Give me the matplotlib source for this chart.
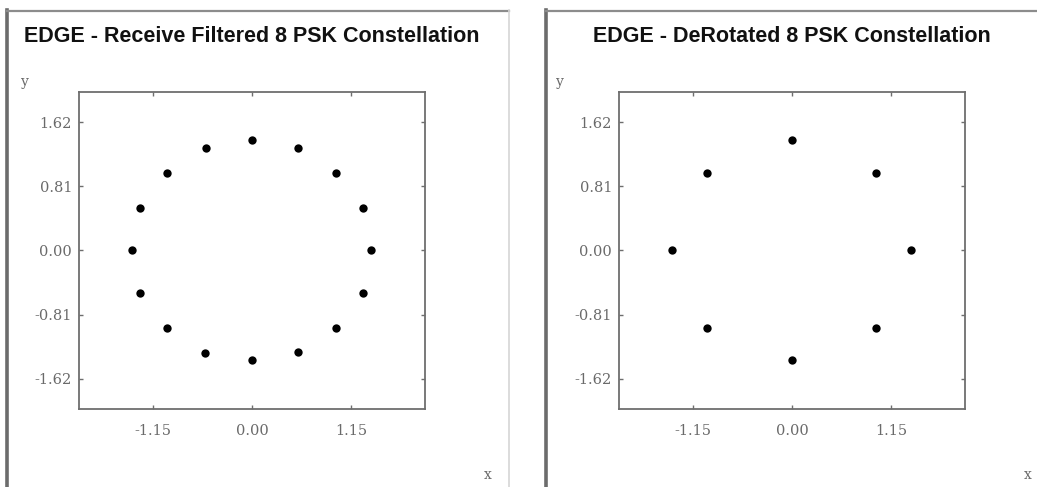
import matplotlib
matplotlib.use("Agg")
import matplotlib.pyplot as plt
from matplotlib.lines import Line2D

# Receive-filtered constellation: 16 phase states (8-PSK with 3pi/8 rotation)
rx_i = [0.00, 0.53, 0.97, 1.28, 1.38, 1.28, 0.97, 0.53,
        0.00, -0.54, -0.98, -1.29, -1.39, -1.29, -0.98, -0.53]
rx_q = [1.40, 1.29, 0.98, 0.54, 0.00, -0.53, -0.98, -1.28,
        -1.38, -1.29, -0.975, -0.53, 0.00, 0.53, 0.98, 1.29]

# De-rotated constellation: 8 phase states
dr_i = [0.00, 0.97, 1.38, 0.97, 0.00, -0.98, -1.39, -0.98]
dr_q = [1.40, 0.98, 0.00, -0.975, -1.38, -0.98, 0.00, 0.98]

x_ticks = [-1.15, 0.00, 1.15]
y_ticks = [-1.62, -0.81, 0.00, 0.81, 1.62]
titles = ["EDGE - Receive Filtered 8 PSK Constellation",
          "EDGE - DeRotated 8 PSK Constellation"]

plt.rcParams["axes.unicode_minus"] = False

W, H = 1037, 487
fig = plt.figure(figsize=(W / 100, H / 100), dpi=100)
fig.patch.set_facecolor("white")

spine_col = "#6e6e6e"
text_col = "#6a6a6a"
serif = ["DejaVu Serif"]


def fx(px):
    return px / W


def fy(py):
    return 1 - py / H


# panel frames
def frame(x0, x1, right_edge=True):
    fig.add_artist(Line2D([fx(x0), fx(x0)], [fy(10), 0], transform=fig.transFigure,
                          color="#6c6c6c", lw=2.6))
    fig.add_artist(Line2D([fx(x0), fx(x1)], [fy(10.5), fy(10.5)], transform=fig.transFigure,
                          color="#8c8c8c", lw=1.6))
    if right_edge:
        fig.add_artist(Line2D([fx(x1), fx(x1)], [fy(10), 0], transform=fig.transFigure,
                              color="#d6d6d6", lw=1.2))


frame(7, 509)
frame(546, 1040, right_edge=False)

panels = [(79, rx_i, rx_q, titles[0], 25, 488),
          (619, dr_i, dr_q, titles[1], 560, 1028)]

for left_px, xs, ys, title, ylab_x, xlab_x in panels:
    ax = fig.add_axes([fx(left_px), fy(409), 346 / W, 317 / H])
    ax.plot(xs, ys, linestyle="none", marker="o", markersize=6.0,
            color="black", markeredgewidth=0)
    ax.set_xlim(-2.0, 2.0)
    ax.set_ylim(-2.0, 2.0)
    ax.set_xticks(x_ticks)
    ax.set_yticks(y_ticks)
    ax.set_xticklabels([f"{v:.2f}" for v in x_ticks])
    ax.set_yticklabels([f"{v:.2f}" for v in y_ticks])
    ax.tick_params(direction="in", length=3, width=1, color=spine_col,
                   top=True, right=True, labelsize=10.5, labelcolor=text_col)
    ax.tick_params(axis="x", pad=11)
    ax.tick_params(axis="y", pad=5)
    for lab in ax.get_xticklabels() + ax.get_yticklabels():
        lab.set_family(serif)
    for sp in ax.spines.values():
        sp.set_color(spine_col)
        sp.set_linewidth(1.3)
    cx = left_px + 173
    fig.text(fx(cx), fy(37), title, ha="center", va="center",
             fontsize=15.5, fontweight="bold", family=["Liberation Sans"], color="#111111")
    fig.text(fx(ylab_x), fy(82), "y", ha="center", va="center",
             fontsize=10, family=serif, color=text_col)
    fig.text(fx(xlab_x), fy(475), "x", ha="center", va="center",
             fontsize=10, family=serif, color=text_col)

fig.savefig("out.png", dpi=100)
